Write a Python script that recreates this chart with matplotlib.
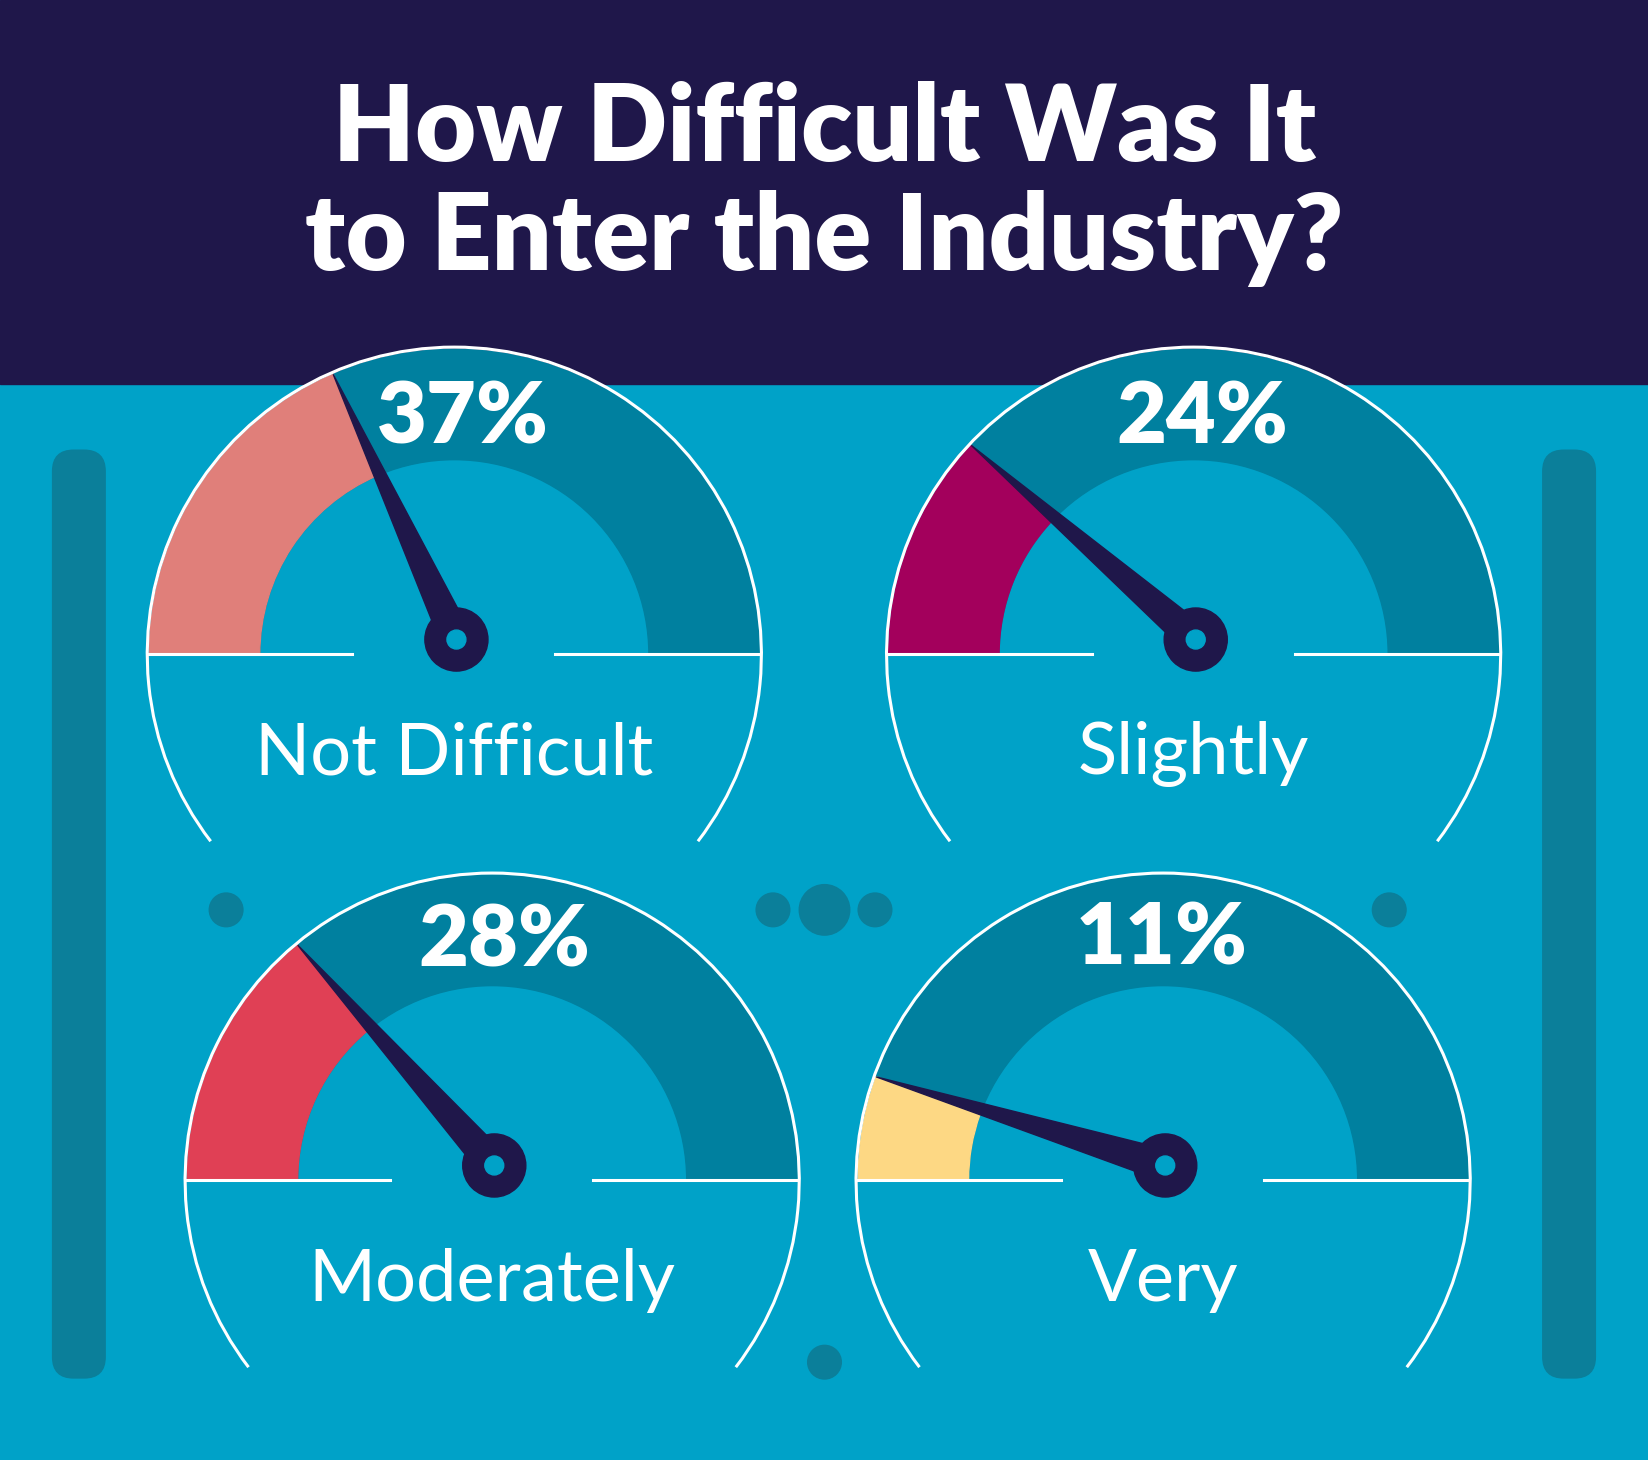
import matplotlib
matplotlib.use("Agg")
import matplotlib.pyplot as plt
import numpy as np
from matplotlib.patches import Wedge, Circle, Rectangle, FancyBboxPatch, Arc, Polygon

categories = ["Not Difficult", "Slightly", "Moderately", "Very"]
values = [37, 24, 28, 11]
colors = ["#e07f7a", "#a3005c", "#e04055", "#fdd884"]
title = "How Difficult Was It\nto Enter the Industry?"

W, H = 1568, 1388
BG = "#00a2c8"; NAVY = "#1f174a"; TEAL = "#00809f"; BAR = "#0b7f9a"

fig = plt.figure(figsize=(16.49, 14.60), dpi=100)
ax = fig.add_axes([0, 0, 1, 1])
ax.set_xlim(0, W); ax.set_ylim(0, H); ax.axis("off")
def Y(y): return H - y

ax.add_patch(Rectangle((0, 0), W, H, color=BG, zorder=0))
ax.add_patch(Rectangle((0, Y(365)), W, 365, color=NAVY, zorder=1))
ax.text(W/2, Y(175), title, ha="center", va="center", color="white",
        fontsize=76, fontweight="heavy", family="Lato", linespacing=1.15, zorder=2)

for x in (50, 1467):
    ax.add_patch(FancyBboxPatch((x, Y(1310)), 50, 882, boxstyle="round,pad=0,rounding_size=20",
                                color=BAR, zorder=1))
for (x, y, r) in [(215, 865, 16), (735, 865, 16), (784, 865, 24), (832, 865, 16),
                  (1321, 865, 16), (784, 1295, 16)]:
    ax.add_patch(Circle((x, Y(y)), r, color=BAR, zorder=1))

centers = [(432, 622), (1135, 622), (468, 1122), (1106, 1122)]
pct_pos = [(440, 398), (1143, 398), (480, 895), (1105, 893)]
R, Rin = 290, 185
for (cx, cy), v, c, cat, (px, py) in zip(centers, values, colors, categories, pct_pos):
    yc = Y(cy)
    ax.add_patch(Wedge((cx, yc), R, 0, 180, width=R - Rin, color=TEAL, zorder=3))
    ang = 180 - 180 * v / 100
    ax.add_patch(Wedge((cx, yc), R, ang, 180, width=R - Rin, color=c, zorder=4))
    ax.add_patch(Arc((cx, yc), 2 * R + 4, 2 * R + 4, theta1=-37.5, theta2=217.5,
                     color="white", lw=2.2, zorder=5))
    ax.plot([cx - R, cx - 97], [yc, yc], color="white", lw=2.2, zorder=5)
    ax.plot([cx + 96, cx + R], [yc, yc], color="white", lw=2.2, zorder=5)
    pvx, pvy = cx + 2, yc + 14
    a = np.deg2rad(ang)
    tip = (cx + R * np.cos(a), yc + R * np.sin(a))
    d = np.array([tip[0] - pvx, tip[1] - pvy]); d /= np.linalg.norm(d)
    n = np.array([-d[1], d[0]]) * 15
    ax.add_patch(Polygon([tip, (pvx + n[0], pvy + n[1]), (pvx - n[0], pvy - n[1])],
                         color=NAVY, zorder=6))
    ax.add_patch(Circle((pvx, pvy), 30, color=NAVY, zorder=7))
    ax.add_patch(Circle((pvx, pvy), 9, color=BG, zorder=8))
    ax.text(px, Y(py), f"{v}%", ha="center", va="center", color="white",
            fontsize=62, fontweight="heavy", family="Lato", zorder=9)
    ax.text(cx, yc - 95, cat, ha="center", va="center", color="white",
            fontsize=52, family="Lato", zorder=9)

fig.savefig("out.png", dpi=100)
